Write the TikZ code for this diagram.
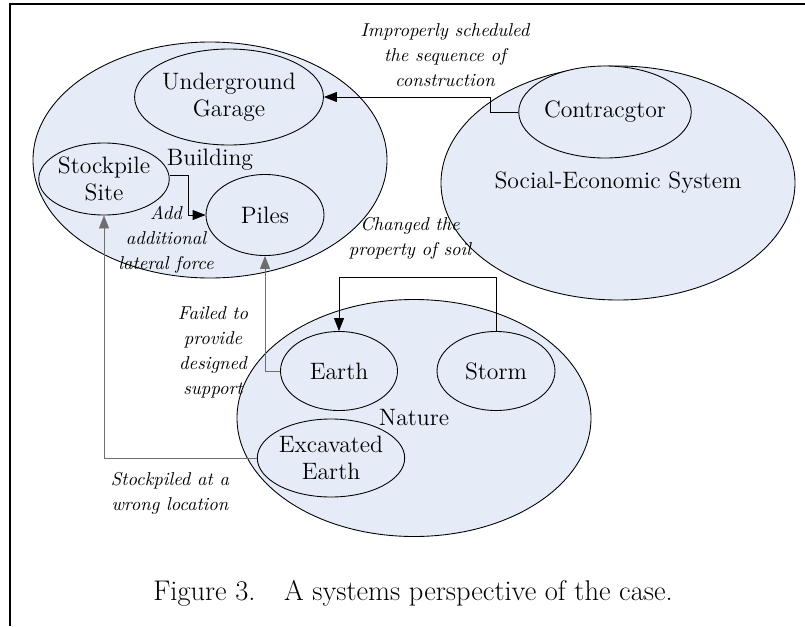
\documentclass[tikz,border=0pt]{standalone}
\usepackage{tikz}
\usetikzlibrary{shapes.geometric,arrows.meta}
\definecolor{bubble}{RGB}{230,236,247}
\definecolor{wire}{RGB}{110,110,110}

\begin{document}
\begin{tikzpicture}
  [x=0.02cm,y=-0.02cm,
   sys/.style={ellipse,draw=black,fill=bubble,line width=0.5pt,inner sep=0pt},
   part/.style={sys,align=center,font=\fontsize{13.5}{15.5}\selectfont},
   tag/.style={align=center,font=\fontsize{13.5}{15.5}\selectfont},
   note/.style={align=center,font=\fontsize{10.6}{14.2}\selectfont\itshape},
   link/.style={line width=0.5pt,-{Triangle[length=0.26cm,width=0.2cm]}}]
  \useasboundingbox (0,0) rectangle (805,626);
  \draw[line width=1.1pt] (10,626) -- (10,4) -- (805,4);

  \node[sys,minimum width=354*0.02cm,minimum height=236*0.02cm] (bld) at (210,160) {};
  \node[sys,minimum width=354*0.02cm,minimum height=234*0.02cm] (soc) at (618,183) {};
  \node[sys,minimum width=354*0.02cm,minimum height=237*0.02cm] (nat) at (414,418) {};

  \node[part,minimum width=188*0.02cm,minimum height=96*0.02cm] (gar) at (229,97) {Underground\\Garage};
  \node[part,minimum width=125*0.02cm,minimum height=72*0.02cm] (stk) at (104,179) {Stockpile\\Site};
  \node[part,minimum width=118*0.02cm,minimum height=81*0.02cm] (pil) at (265,215) {Piles};
  \node[part,minimum width=160*0.02cm,minimum height=92*0.02cm] (con) at (605,112) {Contracgtor};
  \node[part,minimum width=117*0.02cm,minimum height=79*0.02cm] (ear) at (339,371) {Earth};
  \node[part,minimum width=118*0.02cm,minimum height=79*0.02cm] (sto) at (496,371) {Storm};
  \node[part,minimum width=141*0.02cm,minimum height=78*0.02cm] (exc) at (331,458) {Excavated\\Earth};

  \node[tag] (bldname) at (210,160) {Building};
  \node[tag] (socname) at (618,183) {Social-Economic System};
  \node[tag] (natname) at (414,418) {Nature};

  \node[note] (n1) at (445,55) {Improperly scheduled\\the sequence of\\construction};
  \node[note] (n2) at (166,240) {Add\\additional\\lateral force};
  \node[note] (n3) at (410,238) {Changed the\\property of soil};
  \node[note] (n4) at (213,352) {Failed to\\provide\\designed\\support};
  \node[note] (n5) at (170,493) {Stockpiled at a\\wrong location};

  \draw[link] (con.west) -- ++(-28,0) |- (gar.east);
  \draw[link] ([yshift=0.08cm]stk.east) -- ++(19,0) |- (pil.west);
  \draw[link,wire] (ear.west) -| (pil.south);
  \draw[link,wire] (exc.west) -| (stk.south);
  \draw[link] (sto.north) -- ++(0,-54) -| (ear.north);

  \node[font=\fontsize{16.2}{18}\selectfont] (cap) at (413,593) {Figure 3.\quad A systems perspective of the case.};
\end{tikzpicture}
\end{document}
